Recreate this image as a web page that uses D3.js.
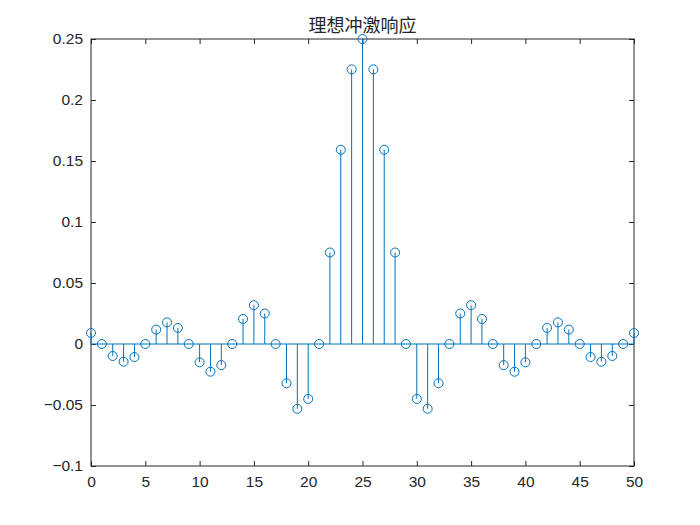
<!DOCTYPE html>
<html>
<head>
<meta charset="utf-8">
<script src="https://cdn.jsdelivr.net/npm/d3@7"></script>
<style>
  body { margin: 0; background: #fff; }
  svg { display: block; }
</style>
</head>
<body>
<svg id="chart"></svg>
<script>
const n = d3.range(0, 51);
const h = [
  0.0090, 0.0000, -0.0098, -0.0145, -0.0107, 0.0000, 0.0118, 0.0177, 0.0132, 0.0000,
  -0.0150, -0.0227, -0.0173, 0.0000, 0.0205, 0.0318, 0.0250, 0.0000, -0.0322, -0.0531,
  -0.0450, 0.0000, 0.0750, 0.1592, 0.2251, 0.2500, 0.2251, 0.1592, 0.0750, 0.0000,
  -0.0450, -0.0531, -0.0322, 0.0000, 0.0250, 0.0318, 0.0205, 0.0000, -0.0173, -0.0227,
  -0.0150, 0.0000, 0.0132, 0.0177, 0.0118, 0.0000, -0.0107, -0.0145, -0.0098, 0.0000,
  0.0090
];
const xTicks = [0, 5, 10, 15, 20, 25, 30, 35, 40, 45, 50];
const yTicks = [-0.1, -0.05, 0, 0.05, 0.1, 0.15, 0.2, 0.25];
const title = '理想冲激响应';

const width = 700, height = 525;
const margin = { left: 91, right: 66, top: 39, bottom: 59 };
const svg = d3.select('#chart').attr('width', width).attr('height', height);

const x = d3.scaleLinear().domain([0, 50]).range([margin.left, width - margin.right]);
const y = d3.scaleLinear().domain([-0.1, 0.25]).range([height - margin.bottom, margin.top]);

const axisColor = '#262626';
const stemColor = '#0072BD';
const font = '"Liberation Sans", Arial, sans-serif';

function styleAxis(g) {
  g.select('.domain').remove();
  g.selectAll('.tick line').attr('stroke', axisColor).attr('stroke-width', 1);
  g.selectAll('.tick text').attr('fill', axisColor).style('font-family', font).style('font-size', '15.5px');
}

svg.append('g')
  .attr('transform', `translate(0,${y(-0.1)})`)
  .call(d3.axisBottom(x).tickValues(xTicks).tickSize(-5).tickPadding(10).tickFormat(d3.format('d')))
  .call(styleAxis);
svg.append('g')
  .attr('transform', `translate(0,${y(0.25)})`)
  .call(d3.axisTop(x).tickValues(xTicks).tickSize(-5).tickFormat(''))
  .call(styleAxis);
svg.append('g')
  .attr('transform', `translate(${x(0)},0)`)
  .call(d3.axisLeft(y).tickValues(yTicks).tickSize(-5).tickPadding(8).tickFormat(d => d3.format('')(+d.toFixed(2))))
  .call(styleAxis);
svg.append('g')
  .attr('transform', `translate(${x(50)},0)`)
  .call(d3.axisRight(y).tickValues(yTicks).tickSize(-5).tickFormat(''))
  .call(styleAxis);

svg.append('rect')
  .attr('x', x(0)).attr('y', y(0.25))
  .attr('width', x(50) - x(0)).attr('height', y(-0.1) - y(0.25))
  .attr('fill', 'none').attr('stroke', axisColor).attr('stroke-width', 1);

const data = n.map((d, i) => ({ n: d, h: h[i] }));

svg.append('line')
  .attr('x1', x(0)).attr('x2', x(50))
  .attr('y1', y(0)).attr('y2', y(0))
  .attr('stroke', stemColor).attr('stroke-width', 1);

svg.append('g').selectAll('line')
  .data(data)
  .join('line')
    .attr('x1', d => x(d.n)).attr('x2', d => x(d.n))
    .attr('y1', y(0)).attr('y2', d => y(d.h))
    .attr('stroke', stemColor).attr('stroke-width', 1);

svg.append('g').selectAll('circle')
  .data(data)
  .join('circle')
    .attr('cx', d => x(d.n)).attr('cy', d => y(d.h))
    .attr('r', 4.5)
    .attr('fill', 'none')
    .attr('stroke', stemColor).attr('stroke-width', 1);

svg.append('text')
  .attr('x', (x(0) + x(50)) / 2).attr('y', 32)
  .attr('text-anchor', 'middle')
  .attr('fill', axisColor)
  .style('font-family', '"Noto Sans CJK SC", sans-serif')
  .style('font-size', '18px')
  .text(title);
</script>
</body>
</html>
